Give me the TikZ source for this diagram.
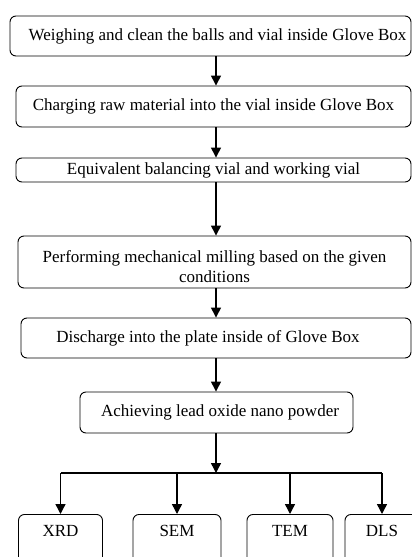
\documentclass[tikz,border=0pt]{standalone}
\usepackage{fontspec}
\setmainfont{Liberation Serif}
\usetikzlibrary{arrows.meta,positioning}

\begin{document}
\begin{tikzpicture}[x=1pt, y=-1pt]
    % Define styles
    \tikzstyle{stage} = [rectangle, rounded corners=6pt, draw=black, line width=0.9pt, inner sep=0pt, text centered, font=\fontsize{17}{20}\selectfont]
    \tikzstyle{test} = [stage, anchor=north, minimum width=84pt, inner ysep=10pt, text height=12pt, text depth=24pt]
    \tikzstyle{arrow} = [line width=1.4pt, -{Triangle[length=10pt, width=10pt]}]
    \tikzstyle{wire} = [line width=1.4pt]

    \useasboundingbox (0,0) rectangle (412,557);
    \clip (0,0) rectangle (412,557);
    \coordinate (spine) at (216,0);

    % Steps
    \node [stage, minimum width=401pt, minimum height=40pt] (weigh) at (210.5,36) {\hspace*{14pt}Weighing and clean the balls and vial inside Glove Box};
    \node [stage, minimum width=395pt, minimum height=41pt] (charge) at (213.5,106.5) {Charging raw material into the vial inside Glove Box};
    \node [stage, minimum width=395pt, minimum height=24pt] (balance) at (213.5,170) {Equivalent balancing vial and working vial};
    \node [stage, minimum width=393pt, minimum height=52pt, align=center] (mill) at (214.5,262) {\rule{0pt}{22pt}Performing mechanical milling based on the given\\conditions};
    \node [stage, minimum width=390pt, minimum height=40pt] (discharge) at (216,338) {Discharge into the plate inside of Glove Box\hspace*{16pt}};
    \node [stage, minimum width=273pt, minimum height=41pt] (powder) at (216.5,412.5) {\hspace*{7pt}Achieving lead oxide nano powder};

    % Tests
    \node [test] (xrd) at (60.5,514) {XRD};
    \node [test, minimum width=88pt] (sem) at (177,514) {SEM};
    \node [test, minimum width=86pt] (tem) at (290,514) {TEM};
    \node [test, minimum width=74pt] (dls) at (382,514) {DLS};

    % Arrows
    \draw [arrow] (weigh.south -| spine) -- (charge.north -| spine);
    \draw [arrow] (charge.south -| spine) -- (balance.north -| spine);
    \draw [arrow] (balance.south -| spine) -- (mill.north -| spine);
    \draw [arrow] (mill.south -| spine) -- (discharge.north -| spine);
    \draw [arrow] (discharge.south -| spine) -- (powder.north -| spine);
    \coordinate (bus) at (216,473);
    \draw [arrow] (powder.south -| spine) -- (bus);
    \draw [wire] (xrd.north |- bus) -- (dls.north |- bus);
    \foreach \t in {xrd, sem, tem, dls}
        \draw [arrow] (\t.north |- bus) -- (\t.north);
\end{tikzpicture}
\end{document}
